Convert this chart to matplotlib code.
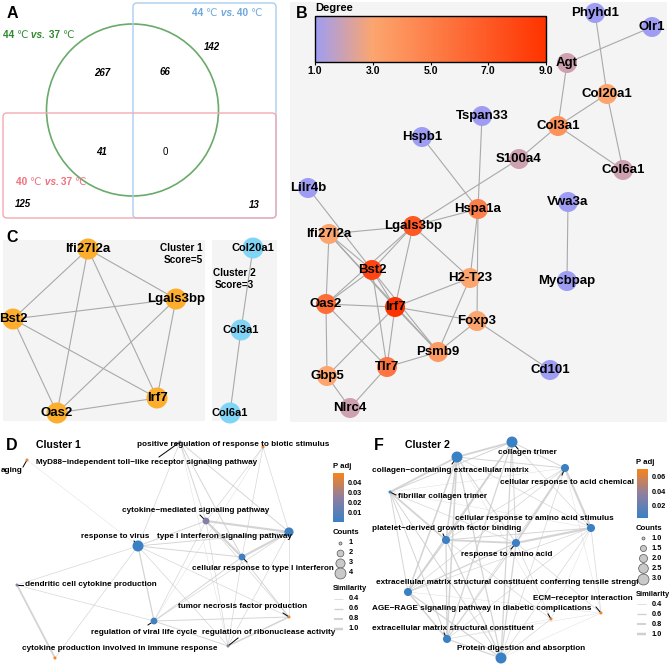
import numpy as np
import matplotlib
matplotlib.use('Agg')
import matplotlib.pyplot as plt
from matplotlib.patches import Circle, FancyBboxPatch, Rectangle
from matplotlib.colors import LinearSegmentedColormap, Normalize
from matplotlib.collections import LineCollection
import matplotlib.cm as cm

W, H = 669, 665
plt.rcParams['font.family'] = ['Liberation Sans', 'DejaVu Sans']

# ---------------- DATA ----------------
# Panel A (Venn)
venn_sets = ['44 \u2103 vs. 37 \u2103', '44 \u2103 vs. 40 \u2103', '40 \u2103 vs. 37 \u2103']
venn_regions = ['44v37 only', '44v37&44v40', '44v40 only', '44v37&40v37', 'all', '40v37 only', '44v40&40v37']
venn_counts = [267, 66, 142, 41, 0, 125, 13]

# Panel B (PPI network)
b_nodes = ['Phyhd1', 'Olr1', 'Agt', 'Col20a1', 'Col3a1', 'S100a4', 'Col6a1', 'Tspan33', 'Hspb1',
           'Lilr4b', 'Hspa1a', 'Vwa3a', 'Mycbpap', 'Lgals3bp', 'Ifi27l2a', 'Bst2', 'H2-T23', 'Oas2',
           'Irf7', 'Foxp3', 'Psmb9', 'Tlr7', 'Gbp5', 'Nlrc4', 'Cd101']
b_degree = [1, 1, 2, 3, 4, 2, 2, 1, 1, 1, 5, 1, 1, 7, 3, 8, 3, 6, 9, 3, 3.6, 5.5, 3, 2, 1]
b_edges = [('Phyhd1', 'Col20a1'), ('Olr1', 'Agt'), ('Agt', 'Col3a1'), ('Col20a1', 'Col3a1'),
           ('Col20a1', 'Col6a1'), ('Col3a1', 'Col6a1'), ('Col3a1', 'S100a4'), ('S100a4', 'Lgals3bp'),
           ('Tspan33', 'Hspa1a'), ('Hspb1', 'Hspa1a'), ('Lilr4b', 'Bst2'), ('Hspa1a', 'Lgals3bp'),
           ('Hspa1a', 'H2-T23'), ('Hspa1a', 'Foxp3'), ('Vwa3a', 'Mycbpap'), ('Lgals3bp', 'Ifi27l2a'),
           ('Lgals3bp', 'Bst2'), ('Lgals3bp', 'Oas2'), ('Lgals3bp', 'Irf7'), ('Lgals3bp', 'H2-T23'),
           ('Ifi27l2a', 'Bst2'), ('Ifi27l2a', 'Oas2'), ('Ifi27l2a', 'Irf7'), ('Ifi27l2a', 'Psmb9'),
           ('Bst2', 'Oas2'), ('Bst2', 'Irf7'), ('Bst2', 'Tlr7'), ('Bst2', 'Psmb9'), ('Oas2', 'Irf7'),
           ('Oas2', 'Tlr7'), ('Oas2', 'Gbp5'), ('Irf7', 'H2-T23'), ('Irf7', 'Foxp3'), ('Irf7', 'Psmb9'),
           ('Irf7', 'Tlr7'), ('Irf7', 'Gbp5'), ('H2-T23', 'Psmb9'), ('Foxp3', 'Psmb9'), ('Foxp3', 'Cd101'),
           ('Psmb9', 'Tlr7'), ('Tlr7', 'Nlrc4'), ('Gbp5', 'Nlrc4')]
b_layout = {'Phyhd1': (595, 13), 'Olr1': (652, 27), 'Agt': (567, 63), 'Col20a1': (607, 94),
            'Col3a1': (558, 126), 'S100a4': (519, 159), 'Col6a1': (623, 170), 'Tspan33': (482, 116),
            'Hspb1': (422, 137), 'Lilr4b': (308, 188), 'Hspa1a': (478, 209), 'Vwa3a': (568, 202),
            'Mycbpap': (567, 281), 'Lgals3bp': (413, 226), 'Ifi27l2a': (329, 234), 'Bst2': (372, 270),
            'H2-T23': (470, 278), 'Oas2': (326, 304), 'Irf7': (395, 307), 'Foxp3': (477, 321),
            'Psmb9': (438, 352), 'Tlr7': (387, 367), 'Gbp5': (327, 376), 'Nlrc4': (350, 408),
            'Cd101': (550, 370)}
b_ticks = [1.0, 3.0, 5.0, 7.0, 9.0]

# Panel C (MCODE clusters)
c1_nodes = ['Ifi27l2a', 'Lgals3bp', 'Bst2', 'Irf7', 'Oas2']
c1_layout = {'Ifi27l2a': (88, 249), 'Lgals3bp': (176, 299), 'Bst2': (13, 319), 'Irf7': (157, 398), 'Oas2': (57, 413)}
c1_edges = [(a, b) for i, a in enumerate(c1_nodes) for b in c1_nodes[i + 1:]]
c2_nodes = ['Col20a1', 'Col3a1', 'Col6a1']
c2_layout = {'Col20a1': (253, 248), 'Col3a1': (241, 330), 'Col6a1': (230, 413)}
c2_edges = [('Col20a1', 'Col3a1'), ('Col3a1', 'Col6a1')]
cluster_scores = [5, 3]

# Panel D (Cluster 1 enrichment map)
d_ids = ['MY', 'PR', 'AG', 'CM', 'TI', 'RV', 'CR', 'DC', 'TN', 'VL', 'RN', 'CP']
d_terms = ['MyD88\u2212independent toll\u2212like receptor signaling pathway',
           'positive regulation of response to biotic stimulus', 'aging',
           'cytokine\u2212mediated signaling pathway', 'type I interferon signaling pathway',
           'response to virus', 'cellular response to type I interferon',
           'dendritic cell cytokine production', 'tumor necrosis factor production',
           'regulation of viral life cycle', 'regulation of ribonuclease activity',
           'cytokine production involved in immune response']
d_counts = [1, 1, 1, 2, 3, 4, 2, 1, 1, 2, 1, 1]
d_padj = [0.021, 0.046, 0.045, 0.022, 0.003, 0.0012, 0.003, 0.024, 0.046, 0.004, 0.023, 0.049]
d_layout = {'MY': (180, 442), 'PR': (263, 447), 'AG': (27, 460), 'CM': (206, 521), 'TI': (289, 532),
            'RV': (138, 546), 'CR': (242, 557), 'DC': (17, 585), 'TN': (289, 617), 'VL': (154, 621),
            'RN': (228, 646), 'CP': (55, 658)}
d_label_pos = {'MY': (36, 463, 'left'), 'PR': (233, 445, 'center'), 'AG': (12, 471, 'center'),
               'CM': (196, 511, 'center'), 'TI': (224, 537, 'center'), 'RV': (115, 536, 'center'),
               'CR': (263, 568, 'center'), 'DC': (25, 585, 'left'), 'TN': (243, 607, 'center'),
               'VL': (144, 632, 'center'), 'RN': (269, 632, 'center'), 'CP': (120, 649, 'center')}
d_segments = {'MY': (159, 457), 'AG': (23, 467), 'CM': (200, 515), 'RV': (134, 541), 'CR': (247, 562),
              'DC': (23, 585), 'TN': (283, 613), 'VL': (148, 625), 'RN': (238, 638)}
d_edges = [('AG', 'RV', 0.3), ('MY', 'CM', 0.5), ('MY', 'TI', 0.5), ('MY', 'CR', 0.5), ('MY', 'RV', 0.4),
           ('MY', 'RN', 0.3), ('PR', 'TI', 0.4), ('PR', 'CM', 0.4), ('PR', 'CR', 0.4), ('PR', 'VL', 0.3),
           ('CM', 'TI', 0.9), ('CM', 'CR', 0.9), ('CM', 'RV', 0.5), ('CM', 'VL', 0.4), ('CM', 'RN', 0.4),
           ('CM', 'TN', 0.4), ('TI', 'CR', 0.9), ('TI', 'RV', 0.5), ('TI', 'TN', 0.4), ('TI', 'VL', 0.4),
           ('TI', 'RN', 0.4), ('RV', 'CR', 0.5), ('RV', 'VL', 0.6), ('RV', 'DC', 0.4), ('RV', 'CP', 0.4),
           ('RV', 'RN', 0.4), ('RV', 'TN', 0.4), ('CR', 'VL', 0.5), ('CR', 'TN', 0.5), ('CR', 'RN', 0.4),
           ('DC', 'CP', 0.8), ('DC', 'VL', 0.4), ('VL', 'TN', 0.5), ('VL', 'RN', 0.5), ('RN', 'TN', 0.7)]
d_padj_ticks = [0.01, 0.02, 0.03, 0.04]
d_count_ticks = [1, 2, 3, 4]

# Panel F (Cluster 2 enrichment map)
f_ids = ['CT', 'CC', 'CA', 'FC', 'AS', 'PD', 'RA', 'TS', 'ES', 'PDA', 'ER', 'AR']
f_terms = ['collagen trimer', 'collagen\u2212containing extracellular matrix',
           'cellular response to acid chemical', 'fibrillar collagen trimer',
           'cellular response to amino acid stimulus', 'platelet\u2212derived growth factor binding',
           'response to amino acid',
           'extracellular matrix structural constituent conferring tensile strength',
           'extracellular matrix structural constituent', 'Protein digestion and absorption',
           'ECM\u2212receptor interaction', 'AGE\u2212RAGE signaling pathway in diabetic complications']
f_counts = [3, 3, 2, 1, 2, 2, 2, 2, 2, 3, 1, 1]
f_padj = [0.0015, 0.0015, 0.002, 0.003, 0.002, 0.0015, 0.002, 0.0015, 0.0015, 0.0015, 0.0714, 0.066]
f_layout = {'CT': (512, 442), 'CC': (457, 457), 'CA': (565, 468), 'FC': (390, 492), 'AS': (591, 528),
            'PD': (446, 540), 'RA': (516, 543), 'TS': (408, 592), 'ES': (447, 639), 'PDA': (501, 658),
            'ER': (601, 613), 'AR': (551, 619)}
f_label_pos = {'CT': (527, 453, 'center'), 'CC': (450, 471, 'center'), 'CA': (567, 482, 'center'),
               'FC': (398, 496, 'left'), 'AS': (534, 518, 'center'), 'PD': (447, 529, 'center'),
               'RA': (507, 554, 'center'), 'TS': (376, 582, 'left'), 'ES': (453, 629, 'center'),
               'PDA': (521, 648, 'center'), 'ER': (583, 599, 'center'), 'AR': (482, 609, 'center')}
f_segments = {'CT': (518, 449), 'CC': (452, 464), 'CA': (562, 475), 'FC': (396, 495), 'AS': (587, 524),
              'PD': (443, 534), 'RA': (511, 549), 'ES': (444, 633), 'ER': (596, 607), 'AR': (548, 614)}
f_edges = [('CT', 'CC', .8), ('CT', 'FC', .5), ('CT', 'PD', .6), ('CT', 'TS', .6), ('CT', 'ES', .6),
           ('CT', 'PDA', .6), ('CC', 'FC', .8), ('CC', 'PD', .7), ('CC', 'TS', .7), ('CC', 'ES', .7),
           ('CC', 'PDA', .6), ('FC', 'PD', .8), ('FC', 'TS', .5), ('FC', 'ES', .5), ('FC', 'PDA', .5),
           ('PD', 'TS', .6), ('PD', 'ES', .6), ('PD', 'PDA', .6), ('TS', 'ES', .7), ('TS', 'PDA', .6),
           ('ES', 'PDA', .6), ('CA', 'AS', .9), ('CA', 'RA', .8), ('AS', 'RA', .9),
           ('CT', 'CA', .5), ('CT', 'AS', .4), ('CT', 'RA', .5), ('CC', 'CA', .5), ('CC', 'AS', .4),
           ('CC', 'RA', .5), ('FC', 'CA', .3), ('FC', 'AS', .3), ('FC', 'RA', .4), ('PD', 'CA', .4),
           ('PD', 'AS', .5), ('PD', 'RA', .8), ('TS', 'CA', .4), ('TS', 'AS', .4), ('TS', 'RA', .6),
           ('ES', 'CA', .4), ('ES', 'AS', .4), ('ES', 'RA', .5), ('PDA', 'CA', .4), ('PDA', 'AS', .4),
           ('PDA', 'RA', .6), ('ER', 'AS', .4), ('ER', 'CA', .3), ('ER', 'RA', .4), ('ER', 'PDA', .3),
           ('ER', 'TS', .3), ('ER', 'ES', .3), ('AR', 'RA', .4), ('AR', 'PD', .4), ('AR', 'PDA', .4),
           ('AR', 'AS', .3), ('AR', 'CC', .3), ('AR', 'ES', .3)]
f_padj_ticks = [0.02, 0.04, 0.06]
f_count_ticks = [1.0, 1.5, 2.0, 2.5, 3.0]
sim_ticks = [0.4, 0.6, 0.8, 1.0]

# ---------------- FIGURE ----------------
fig = plt.figure(figsize=(W / 100, H / 100), dpi=100)


def rect(x0, y0, x1, y1):
    return [x0 / W, 1 - y1 / H, (x1 - x0) / W, (y1 - y0) / H]


def pax(x0, y0, x1, y1, bg=None, z=1):
    ax = fig.add_axes(rect(x0, y0, x1, y1))
    ax.set_xlim(x0, x1)
    ax.set_ylim(y1, y0)
    ax.axis('off')
    if bg:
        ax.add_patch(Rectangle((x0, y0), x1 - x0, y1 - y0, fc=bg, ec='none', zorder=-10))
    ax.set_zorder(z)
    return ax


LETTER = dict(fontsize=11.5, weight='bold', va='center', ha='left')

# ---------- Panel A ----------
axA = pax(0, 0, 282, 224)
axA.add_patch(Circle((132.5, 110), 86, fill=False, ec='#6aaa6a', lw=1.2))
axA.add_patch(FancyBboxPatch((133, 3), 143, 215, boxstyle='round,pad=0,rounding_size=4',
                             fill=False, ec='#a9cdf0', lw=1.0))
axA.add_patch(FancyBboxPatch((3, 113), 273, 105, boxstyle='round,pad=0,rounding_size=4',
                             fill=False, ec='#f3a9b2', lw=1.0))
axA.text(7, 13, 'A', **LETTER)


def chain_label(ax, x, y, label, color, size=7.3):
    parts = label.split(' ')
    pieces = [(parts[0] + ' ', 'bold', 'normal', ['Liberation Sans']),
              (parts[1], 'normal', 'normal', ['DejaVu Sans']),
              (' ' + parts[2], 'bold', 'italic', ['Liberation Sans']),
              (' ' + parts[3] + ' ', 'bold', 'normal', ['Liberation Sans']),
              (parts[4], 'normal', 'normal', ['DejaVu Sans'])]
    t = None
    for s, w, st, fam in pieces:
        kw = dict(color=color, fontsize=size, weight=w, style=st, family=fam, va='bottom', ha='left')
        if t is None:
            t = ax.text(x, y, s, **kw)
        else:
            t = ax.annotate(s, xy=(1, 0), xycoords=t, **kw)


chain_label(axA, 3, 40, venn_sets[0], '#2f8a2f')
chain_label(axA, 192, 18, venn_sets[1], '#6fa8dc')
chain_label(axA, 16, 187, venn_sets[2], '#f0707e')
venn_pos = [(102, 73), (165, 72), (212, 47), (102, 152), (165, 152), (23, 204), (254, 205)]
for (x, y), v in zip(venn_pos, venn_counts):
    if v == 0:
        axA.text(x, y, str(v), fontsize=7, ha='center', va='center')
    else:
        axA.text(x, y, str(v), fontsize=7, ha='center', va='center', weight='bold', style='italic')

# ---------- Panel B ----------
axB = pax(290, 2, 667, 422, bg='#f4f4f4')
b_cmap = LinearSegmentedColormap.from_list('deg', [(0, '#9e9df3'), (0.25, '#fca56e'), (1.0, '#ff3300')])
b_norm = Normalize(1, 9)
segs = [[b_layout[a], b_layout[b]] for a, b in b_edges]
axB.add_collection(LineCollection(segs, colors='#a9a9a9', linewidths=0.8, zorder=1))
bx = [b_layout[n][0] for n in b_nodes]
by = [b_layout[n][1] for n in b_nodes]
axB.scatter(bx, by, s=(20 * 0.72) ** 2, c=b_degree, cmap=b_cmap, norm=b_norm, edgecolors='none', zorder=2)
for n in b_nodes:
    axB.text(b_layout[n][0], b_layout[n][1], n, fontsize=9.5, weight='bold', ha='center', va='center', zorder=3)
axB.text(296, 13, 'B', **LETTER)
caxB = fig.add_axes(rect(315, 16, 546, 62))
cbB = fig.colorbar(cm.ScalarMappable(norm=b_norm, cmap=b_cmap), cax=caxB, orientation='horizontal')
cbB.set_ticks(b_ticks)
cbB.set_ticklabels(['%.1f' % t for t in b_ticks])
caxB.tick_params(length=2, width=0.8, labelsize=7.5, pad=1)
for lab in caxB.get_xticklabels():
    lab.set_fontweight('bold')
cbB.outline.set_linewidth(1.0)
caxB.set_zorder(5)
axB.text(315, 8, 'Degree', fontsize=8, weight='bold', ha='left', va='center')

# ---------- Panel C ----------
axC1 = pax(3, 240, 205, 421, bg='#f4f4f4')
axC2 = pax(212, 240, 277, 421, bg='#f4f4f4')
axCL = pax(0, 225, 282, 425, z=3)
axCL.text(6, 237, 'C', **LETTER)
for lay, edges, nodes, col, fs in [(c1_layout, c1_edges, c1_nodes, '#fcae2c', 9.5),
                                   (c2_layout, c2_edges, c2_nodes, '#80d4f6', 8)]:
    axCL.add_collection(LineCollection([[lay[a], lay[b]] for a, b in edges], colors='#a9a9a9',
                                       linewidths=0.8, zorder=1))
    axCL.scatter([lay[n][0] for n in nodes], [lay[n][1] for n in nodes], s=(21 * 0.72) ** 2,
                 color=col, edgecolors='none', zorder=2)
    for n in nodes:
        axCL.text(lay[n][0], lay[n][1], n, fontsize=fs, weight='bold', ha='center', va='center', zorder=3)
axCL.text(203, 254, 'Cluster 1\nScore=%d' % cluster_scores[0], fontsize=7.2, weight='bold',
          ha='right', va='center', linespacing=1.25, zorder=3)
axCL.text(234, 279, 'Cluster 2\nScore=%d' % cluster_scores[1], fontsize=7.2, weight='bold',
          ha='center', va='center', linespacing=1.25, zorder=3)


# ---------- enrichment map helpers ----------
def diam(c, cmin, cmax, dmin=3.0, dmax=11.0):
    return np.sqrt(dmin ** 2 + (dmax ** 2 - dmin ** 2) * (c - cmin) / (cmax - cmin))


def ewidth(s):
    return (0.35 + (s - 0.3) * 3.0) * 0.72


padj_cmap = LinearSegmentedColormap.from_list('padj', ['#3a80c4', '#8f7f9f', '#f7831c'])
LBL_FS = 5.9


def emap(ax, ids, terms, counts, padj, lay, lab, segd, edges, clip=False):
    cmin, cmax = min(counts), max(counts)
    norm = Normalize(min(padj), max(padj))
    segs = [[lay[a], lay[b]] for a, b, s in edges]
    lws = [ewidth(s) for a, b, s in edges]
    ax.add_collection(LineCollection(segs, colors='#cdcdcd', linewidths=lws, alpha=0.85, zorder=1))
    xs = [lay[i][0] for i in ids]
    ys = [lay[i][1] for i in ids]
    sz = [(diam(c, cmin, cmax) * 0.72) ** 2 for c in counts]
    ax.scatter(xs, ys, s=sz, c=padj, cmap=padj_cmap, norm=norm, edgecolors='none', zorder=3)
    for i, t in zip(ids, terms):
        x, y, ha = lab[i]
        txt = ax.text(x, y, t, fontsize=LBL_FS, weight='bold', ha=ha, va='center', zorder=4)
        if clip:
            txt.set_clip_on(True)
        if i in segd:
            ax.plot([lay[i][0], segd[i][0]], [lay[i][1], segd[i][1]], color='black', lw=0.7, zorder=2)
    return norm, cmin, cmax


def legend(ax, cax, norm, padj_ticks, count_ticks, cmin, cmax, x0, ytitle_p, ycounts, yc, ysim, ys, fmt):
    cb = fig.colorbar(cm.ScalarMappable(norm=norm, cmap=padj_cmap), cax=cax)
    cb.set_ticks(padj_ticks)
    cb.set_ticklabels(['%.2f' % t for t in padj_ticks])
    cax.tick_params(length=0, labelsize=5.3, pad=3)
    for l in cax.get_yticklabels():
        l.set_fontweight('bold')
    cb.outline.set_visible(False)
    ax.text(x0, ytitle_p, 'P adj', fontsize=5.6, weight='bold', ha='left', va='center')
    ax.text(x0, ycounts, 'Counts', fontsize=5.6, weight='bold', ha='left', va='center')
    for c, y in zip(count_ticks, yc):
        ax.scatter([x0 + 7], [y], s=(diam(c, cmin, cmax) * 0.72) ** 2, color='#c9c9c9',
                   edgecolors='#555555', linewidths=0.5, zorder=3)
        ax.text(x0 + 16, y, fmt % c, fontsize=5.3, weight='bold', ha='left', va='center')
    ax.text(x0, ysim, 'Similarity', fontsize=5.4, weight='bold', ha='left', va='center')
    for s, y in zip(sim_ticks, ys):
        ax.plot([x0 + 1, x0 + 10], [y, y], color='#cfcfcf', lw=ewidth(s), solid_capstyle='butt')
        ax.text(x0 + 16, y, '%.1f' % s, fontsize=5.3, weight='bold', ha='left', va='center')


# ---------- Panel D ----------
axD = pax(0, 432, 336, 665, z=2)
axD.text(6, 445, 'D', **LETTER)
axD.text(36, 445, 'Cluster 1', fontsize=7.6, weight='bold', ha='left', va='center')
normD, dmin_c, dmax_c = emap(axD, d_ids, d_terms, d_counts, d_padj, d_layout, d_label_pos, d_segments, d_edges)
axDL = pax(330, 455, 372, 640, z=3)
caxD = fig.add_axes(rect(333, 473, 344, 522))
caxD.set_zorder(4)
legend(axDL, caxD, normD, d_padj_ticks, d_count_ticks, dmin_c, dmax_c, 333, 466, 533,
       [543, 553, 563, 573], 589, [599, 609, 619, 629], '%d')

# ---------- Panel F ----------
axF = pax(362, 432, 638, 665, z=2)
axF.text(374, 445, 'F', **LETTER)
axF.text(405, 445, 'Cluster 2', fontsize=7.6, weight='bold', ha='left', va='center')
normF, fmin_c, fmax_c = emap(axF, f_ids, f_terms, f_counts, f_padj, f_layout, f_label_pos, f_segments,
                             f_edges, clip=True)
axFL = pax(632, 455, 669, 640, z=3)
caxF = fig.add_axes(rect(637, 469, 648, 518))
caxF.set_zorder(4)
legend(axFL, caxF, normF, f_padj_ticks, f_count_ticks, fmin_c, fmax_c, 636, 462, 528,
       [538, 548, 558, 568, 579], 595, [604, 614, 624, 634], '%.1f')

fig.savefig('out.png', dpi=100)
